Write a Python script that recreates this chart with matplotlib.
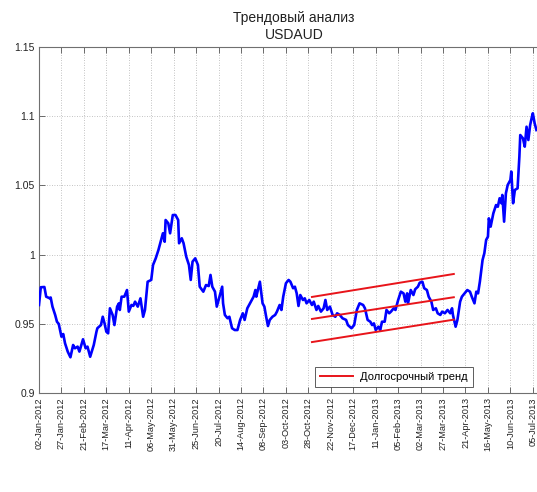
import numpy as np
import matplotlib
matplotlib.use("Agg")
import matplotlib.pyplot as plt
import matplotlib.dates as mdates

plt.rcParams['font.family'] = ['Liberation Sans', 'DejaVu Sans']

title = "Трендовый анализ\nUSDAUD"
legend_label = "Долгосрочный тренд"
start_date = np.datetime64('2012-01-02')

# days since 02-Jan-2012 and USDAUD rate
day_offsets = [
    0, 2, 6, 8, 12, 13, 15, 18, 20, 22, 25, 27, 29, 32, 35, 38, 40, 43, 45, 49,
    52, 54, 57, 61, 64, 65, 69, 71, 73, 75, 77, 79, 82, 84, 87, 89, 90, 92, 95, 98,
    100, 103, 105, 107, 110, 113, 116, 118, 121, 125, 127, 130, 133, 136, 138, 140, 141, 144, 146, 149,
    152, 155, 156, 159, 161, 164, 167, 169, 171, 174, 177, 179,
    183, 186, 189, 191, 193, 196, 198, 200, 202, 204, 205, 207, 210, 212, 215, 218, 221, 224, 227, 229,
    232, 235, 239, 241, 242, 246, 249, 251, 253, 255, 257, 260, 263, 265, 268, 270, 272, 275, 278, 280,
    283, 285, 287, 289, 291, 294, 296, 298, 301, 304, 306, 309, 311, 314, 317, 319, 321, 324, 327, 330,
    332, 335, 338, 342, 344, 348, 351, 354, 357, 361,
    363, 366, 369, 371, 373, 375, 378, 380, 382, 385, 387, 390, 392, 395, 397, 400, 403, 406, 408, 410,
    411, 414, 417, 419, 422, 424, 427, 429, 432, 434, 437, 439, 442, 444, 447, 449, 452, 455, 458, 460,
    461, 464, 466, 469, 471, 474, 477, 480, 482, 485, 487, 489, 491, 494, 496, 498, 500, 501, 503, 506,
    509, 511, 513, 515, 516, 518, 520, 522, 525, 526, 528, 530, 533, 535, 536, 539, 541, 543, 545, 547,
    549, 550, 552, 554,
]
rates = [
    0.9636, 0.9764, 0.9766, 0.9696, 0.9684, 0.9690, 0.9624, 0.9564, 0.9515, 0.9499,
    0.9407, 0.9426, 0.9359, 0.9299, 0.9258, 0.9347, 0.9323, 0.9335, 0.9299, 0.9388,
    0.9323, 0.9335, 0.9262, 0.9347, 0.9443, 0.9468, 0.9491, 0.9551, 0.9503, 0.9443,
    0.9431, 0.9612, 0.9564, 0.9491, 0.9624, 0.9648, 0.9600, 0.9696, 0.9696, 0.9744,
    0.9588, 0.9636, 0.9629, 0.9660, 0.9624, 0.9684, 0.9551, 0.9600, 0.9804, 0.9817,
    0.9925, 0.9973, 1.0033, 1.0106, 1.0154, 1.0093, 1.0250, 1.0226, 1.0154, 1.0286,
    1.0286, 1.0250, 1.0082, 1.0118, 1.0082, 0.9985, 0.9925, 0.9817, 0.9949, 0.9973,
    0.9925, 0.9768,
    0.9732, 0.9780, 0.9773, 0.9853, 0.9768, 0.9732, 0.9624, 0.9672, 0.9720, 0.9768,
    0.9648, 0.9564, 0.9540, 0.9551, 0.9468, 0.9455, 0.9455, 0.9528, 0.9576, 0.9528,
    0.9612, 0.9648, 0.9696, 0.9744, 0.9696, 0.9804, 0.9648, 0.9624, 0.9551, 0.9484,
    0.9528, 0.9551, 0.9564, 0.9588, 0.9636, 0.9600, 0.9696, 0.9793, 0.9817, 0.9804,
    0.9757, 0.9768, 0.9720, 0.9629, 0.9708, 0.9672, 0.9684, 0.9648, 0.9672, 0.9636,
    0.9660, 0.9600, 0.9629, 0.9588, 0.9612, 0.9672, 0.9600, 0.9624, 0.9564, 0.9551,
    0.9576, 0.9564, 0.9540, 0.9528, 0.9491, 0.9468, 0.9491, 0.9600, 0.9648, 0.9636,
    0.9612, 0.9528, 0.9515, 0.9491, 0.9503, 0.9455, 0.9479, 0.9455, 0.9515, 0.9515,
    0.9600, 0.9576, 0.9588, 0.9612, 0.9600, 0.9672, 0.9732, 0.9720, 0.9660, 0.9720,
    0.9648, 0.9744, 0.9708, 0.9750, 0.9768, 0.9797, 0.9804, 0.9757, 0.9744, 0.9696,
    0.9660, 0.9600, 0.9612, 0.9576, 0.9564, 0.9588, 0.9576, 0.9600, 0.9576, 0.9612,
    0.9564, 0.9479, 0.9528, 0.9660, 0.9696, 0.9720, 0.9744, 0.9732, 0.9696, 0.9648,
    0.9732, 0.9720, 0.9804, 0.9961, 1.0010, 1.0106, 1.0130, 1.0262, 1.0202, 1.0298,
    1.0358, 1.0346, 1.0407, 1.0371, 1.0431, 1.0238, 1.0443, 1.0503, 1.0539, 1.0600,
    1.0371, 1.0467, 1.0479, 1.0707, 1.0864, 1.0840, 1.0780, 1.0924, 1.0828, 1.0936,
    1.0996, 1.1021, 1.0949, 1.0900,
]

# trend channel: start/end day offsets and levels (upper, middle, lower)
trend_days = [304, 462]
trend_upper = [0.9694, 0.9860]
trend_middle = [0.9535, 0.9692]
trend_lower = [0.9368, 0.9530]

tick_step_days = 25
tick_last_day = 550
x_end_day = 568
y_ticks = [0.9, 0.95, 1.0, 1.05, 1.1, 1.15]
y_tick_labels = ['0.9', '0.95', '1', '1.05', '1.1', '1.15']

dates = start_date + np.array(day_offsets).astype('timedelta64[D]')
tdates = start_date + np.array(trend_days).astype('timedelta64[D]')

fig = plt.figure(figsize=(5.37, 4.92), dpi=100)
ax = fig.add_axes([39 / 537, 1 - 393 / 492, 510 / 537, 346 / 492])

ax.plot(dates, rates, color='#0000ff', lw=1.9, zorder=3)
l1, = ax.plot(tdates, trend_upper, color='#e8141a', lw=1.4, zorder=4)
ax.plot(tdates, trend_middle, color='#e8141a', lw=1.4, zorder=4)
ax.plot(tdates, trend_lower, color='#e8141a', lw=1.4, zorder=4)

ax.set_xlim(start_date, start_date + np.timedelta64(x_end_day, 'D'))
ax.set_ylim(0.9, 1.15)
xt = start_date + np.arange(0, tick_last_day + 1, tick_step_days).astype('timedelta64[D]')
ax.set_xticks(xt)
ax.xaxis.set_major_formatter(mdates.DateFormatter('%d-%b-%Y'))
ax.set_yticks(y_ticks)
ax.set_yticklabels(y_tick_labels)

for lab in ax.get_xticklabels():
    lab.set_rotation(90)
    lab.set_fontsize(6.6)
    lab.set_color('#222222')
for lab in ax.get_yticklabels():
    lab.set_fontsize(7.5)
    lab.set_color('#222222')

ax.tick_params(axis='both', direction='in', length=4, width=0.6, color='#555555',
               top=True, right=True, pad=3)
ax.grid(True, linestyle=(0, (1, 2)), color='#b0b0b0', lw=0.6)
for s in ax.spines.values():
    s.set_color('#707070')
    s.set_linewidth(0.8)

ax.set_title(title, fontsize=10, color='#222222', pad=6, linespacing=1.2)

leg = ax.legend([l1], [legend_label], loc='lower left', bbox_to_anchor=(0.541, 0.017),
                borderaxespad=0, fontsize=8, frameon=True, fancybox=False,
                handlelength=3.0, handletextpad=0.6, borderpad=0.45)
leg.get_frame().set_edgecolor('#333333')
leg.get_frame().set_linewidth(0.7)

fig.savefig('out.png', dpi=100)
